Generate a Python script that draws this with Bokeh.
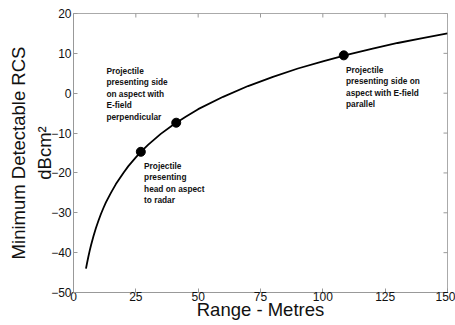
import math
from bokeh.plotting import figure
from bokeh.models import FixedTicker, Range1d
from bokeh.embed import file_html
from bokeh.resources import INLINE
from bokeh.core.properties import value

# Curve: range (m) vs minimum detectable RCS (dBcm^2)
range_m = [5, 5.5, 6, 6.5, 7, 8, 9, 10, 11, 12, 13, 15, 17, 20, 22, 25, 27, 30, 35, 40, 45,
           50, 60, 70, 80, 90, 100, 110, 120, 130, 140, 150]
rcs_db = [-44.0, -42.4, -40.9, -39.5, -38.2, -35.9, -33.8, -32.0, -30.3, -28.8, -27.4,
          -25.0, -22.8, -20.0, -18.3, -16.1, -14.7, -12.9, -10.2, -7.9, -5.9,
          -4.0, -0.9, 1.8, 4.1, 6.2, 8.0, 9.7, 11.2, 12.6, 13.8, 15.0]

# Marked points
pt_x = [27, 41.2, 108.4]
pt_y = [-14.7, -7.4, 9.5]

# Annotations
note_x = [13.2, 28.3, 109.3]
note_y = [6.9, -16.9, 7.1]
note_text = [
    "Projectile\npresenting side\non aspect with\nE-field\nperpendicular",
    "Projectile\npresenting\nhead on aspect\nto radar",
    "Projectile\npresenting side on\naspect with E-field\nparallel",
]

x_ticks = [0, 25, 50, 75, 100, 125, 150]
y_ticks = [-50, -40, -30, -20, -10, 0, 10, 20]

FONT = "Liberation Sans"
FRAME = "#999999"

p = figure(width=455, height=325, output_backend="svg", toolbar_location=None,
           x_range=Range1d(0, 150), y_range=Range1d(-50, 20),
           min_border_left=73, min_border_right=8, min_border_top=13, min_border_bottom=33)
p.grid.grid_line_color = None
p.outline_line_color = "#aaaaaa"
p.background_fill_color = "white"

for ax in (p.xaxis[0], p.yaxis[0]):
    ax.axis_line_color = FRAME
    ax.major_tick_line_color = FRAME
    ax.major_tick_in = 4
    ax.major_tick_out = 0
    ax.minor_tick_line_color = None
    ax.major_label_text_font = FONT
    ax.major_label_text_font_size = "12px"
    ax.major_label_text_color = "#111111"
    ax.axis_label_text_font = FONT
    ax.axis_label_text_font_size = "18.5px"
    ax.axis_label_text_font_style = "normal"
    ax.axis_label_text_color = "#111111"

p.xaxis[0].ticker = FixedTicker(ticks=x_ticks)
p.yaxis[0].ticker = FixedTicker(ticks=y_ticks)
p.xaxis[0].axis_label = "Range - Metres"
p.yaxis[0].axis_label = "Minimum Detectable RCS\ndBcm²"
p.yaxis[0].axis_label_text_line_height = 1.25
p.xaxis[0].major_label_standoff = -1
p.yaxis[0].major_label_standoff = 2
p.xaxis[0].axis_label_standoff = -5
p.yaxis[0].axis_label_standoff = -7

# Inward ticks on the top and right edges of the box (half of each dash is clipped by the frame)
p.scatter(x_ticks, [20] * len(x_ticks), marker="dash", size=8, angle=math.pi / 2,
          line_color=FRAME, line_width=1)
p.scatter([150] * len(y_ticks), y_ticks, marker="dash", size=8,
          line_color=FRAME, line_width=1)

p.line(range_m, rcs_db, line_color="black", line_width=1.8)
p.scatter(pt_x, pt_y, size=9, fill_color="black", line_color="black")
p.text(note_x, note_y, text=note_text, text_font=value(FONT), text_font_size="8.3px",
       text_font_style="bold", text_baseline="top", text_align="left",
       text_color="#111111", text_line_height=1.15)

open("out.html", "w").write(file_html(p, INLINE))
